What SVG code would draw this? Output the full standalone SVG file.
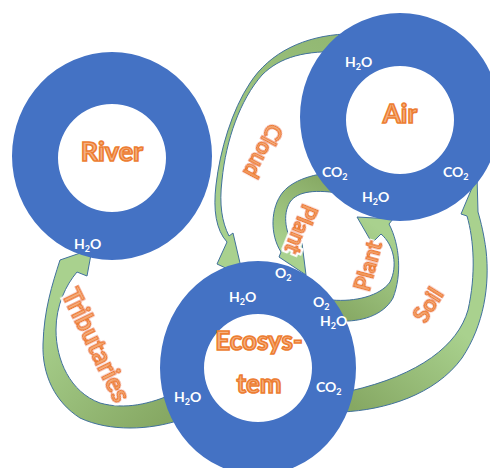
<svg xmlns="http://www.w3.org/2000/svg" width="490" height="468" viewBox="0 0 490 468">
  <style>
    .ring { fill: #4472C4; fill-rule: evenodd; }
    .arrow { stroke: #41719C; stroke-width: 1; stroke-linejoin: round; }
    .ol { font-family: Lato, "Open Sans", "DejaVu Sans", sans-serif; font-weight: bold; fill: #F4B183; stroke: #ED7D31; stroke-width: 1.6; text-anchor: middle; }
    .al { filter: url(#glow); }
    .wl { font-family: Lato, "Open Sans", "DejaVu Sans", sans-serif; font-weight: bold; font-size: 14px; fill: #ffffff; }
  </style>
  <defs>
    <filter id="glow" x="-30%" y="-30%" width="160%" height="160%">
      <feMorphology in="SourceAlpha" operator="dilate" radius="1.5" result="d"/>
      <feFlood flood-color="#ffffff"/>
      <feComposite in2="d" operator="in" result="w"/>
      <feMerge><feMergeNode in="w"/><feMergeNode in="SourceGraphic"/></feMerge>
    </filter>
    <linearGradient id="gTrib" gradientUnits="userSpaceOnUse" x1="175" y1="410" x2="60" y2="300">
      <stop offset="0" stop-color="#86A863"/><stop offset="1" stop-color="#A9D18E"/>
    </linearGradient>
    <linearGradient id="gCloud" gradientUnits="userSpaceOnUse" x1="330" y1="40" x2="225" y2="240">
      <stop offset="0" stop-color="#92B873"/><stop offset="1" stop-color="#A9D18E"/>
    </linearGradient>
    <linearGradient id="gSoil" gradientUnits="userSpaceOnUse" x1="350" y1="405" x2="480" y2="240">
      <stop offset="0" stop-color="#86A863"/><stop offset="0.6" stop-color="#A9D18E"/><stop offset="1" stop-color="#A9D18E"/>
    </linearGradient>
    <linearGradient id="gPlantL" gradientUnits="userSpaceOnUse" x1="330" y1="180" x2="290" y2="250">
      <stop offset="0" stop-color="#86A863"/><stop offset="1" stop-color="#A9D18E"/>
    </linearGradient>
    <linearGradient id="gPlantR" gradientUnits="userSpaceOnUse" x1="340" y1="318" x2="395" y2="240">
      <stop offset="0" stop-color="#86A863"/><stop offset="1" stop-color="#A9D18E"/>
    </linearGradient>
  </defs>

  <g id="connectors">
    <!-- Tributaries: Ecosystem -> River -->
    <path class="arrow" fill="url(#gTrib)" d="M 180,420 C 150,430 110,432 80,418 C 55,402 42,375 43,344 C 44,310 52,285 60,260 L 92,249 L 87,276 L 77,272 C 66,285 56,305 56,330 C 56,360 70,392 100,403 C 125,410 150,404 175,393 Z"/>
    <!-- Cloud: Air -> Ecosystem -->
    <path class="arrow" fill="url(#gCloud)" d="M 345,34 C 305,36 270,52 250,83 C 232,110 220,150 216,185 C 213,210 216,230 227,242 L 217,264 L 243,276 L 233,233 L 229,236 C 222,222 219,205 222,180 C 226,140 240,100 262,75 C 280,57 305,50 345,52 Z"/>
    <!-- Soil: Ecosystem -> Air -->
    <path class="arrow" fill="url(#gSoil)" d="M 342,412 C 385,410 435,395 462,358 C 484,325 490,285 486,250 C 484,235 481,222 478,212 L 477,176 L 461,214 L 467,216 C 474,240 476,275 468,310 C 458,345 420,375 350,391 Z"/>
    <!-- Plant: Air -> Ecosystem -->
    <path class="arrow" fill="url(#gPlantL)" d="M 345,172 C 320,172 295,178 283,192 C 270,208 270,235 281,252 L 279,257 L 306,275 L 302,243 L 294,245 C 286,234 282,215 290,202 C 298,191 315,189 345,194 Z"/>
    <!-- Plant: Ecosystem -> Air -->
    <path class="arrow" fill="url(#gPlantR)" d="M 332,300 C 355,302 380,296 390,282 C 398,266 394,245 381,234 L 372,243 L 357,217 L 393,219 L 389,224 C 400,245 402,275 393,298 C 383,316 360,322 340,321 Z"/>

    <text class="ol al" font-size="26" transform="translate(96,345) rotate(64)" dy="9">Tributaries</text>
    <text class="ol al" font-size="22" transform="translate(263,151) rotate(118)" dy="8">Cloud</text>
    <text class="ol al" font-size="22" transform="translate(301,229) rotate(112)" dy="8">Plant</text>
    <text class="ol al" font-size="22" transform="translate(368,266) rotate(-75)" dy="8">Plant</text>
    <text class="ol al" font-size="22" transform="translate(428,305) rotate(-58)" dy="8">Soil</text>
  </g>

  <g id="river">
    <path class="ring" d="M 12,156 a 100,104 0 1,0 200,0 a 100,104 0 1,0 -200,0 Z M 58,158 a 54,54 0 1,0 108,0 a 54,54 0 1,0 -108,0 Z"/>
    <text class="ol" font-size="27" x="112" y="161">River</text>
    <text class="wl" x="74" y="249">H<tspan font-size="9" dy="3">2</tspan><tspan dy="-3">O</tspan></text>
  </g>

  <g id="air">
    <path class="ring" d="M 300,117 a 100,104 0 1,0 200,0 a 100,104 0 1,0 -200,0 Z M 346,120 a 54,54 0 1,0 108,0 a 54,54 0 1,0 -108,0 Z"/>
    <text class="ol" font-size="26" x="400" y="123">Air</text>
    <text class="wl" x="345" y="67">H<tspan font-size="9" dy="3">2</tspan><tspan dy="-3">O</tspan></text>
    <text class="wl" x="322" y="177">CO<tspan font-size="9" dy="3">2</tspan></text>
    <text class="wl" x="362" y="202">H<tspan font-size="9" dy="3">2</tspan><tspan dy="-3">O</tspan></text>
    <text class="wl" x="443" y="177">CO<tspan font-size="9" dy="3">2</tspan></text>
  </g>

  <g id="ecosystem">
    <path class="ring" d="M 160,368 a 98,107 0 1,0 196,0 a 98,107 0 1,0 -196,0 Z M 204,368 a 54,54 0 1,0 108,0 a 54,54 0 1,0 -108,0 Z"/>
    <text class="ol" font-size="26" x="259" y="350">Ecosys-</text>
    <text class="ol" font-size="26" x="259" y="393">tem</text>
    <text class="wl" x="229" y="302">H<tspan font-size="9" dy="3">2</tspan><tspan dy="-3">O</tspan></text>
    <text class="wl" x="275" y="278">O<tspan font-size="9" dy="3">2</tspan></text>
    <text class="wl" x="313" y="307">O<tspan font-size="9" dy="3">2</tspan></text>
    <text class="wl" x="320" y="326">H<tspan font-size="9" dy="3">2</tspan><tspan dy="-3">O</tspan></text>
    <text class="wl" x="316" y="392">CO<tspan font-size="9" dy="3">2</tspan></text>
    <text class="wl" x="174" y="402">H<tspan font-size="9" dy="3">2</tspan><tspan dy="-3">O</tspan></text>
  </g>
</svg>
